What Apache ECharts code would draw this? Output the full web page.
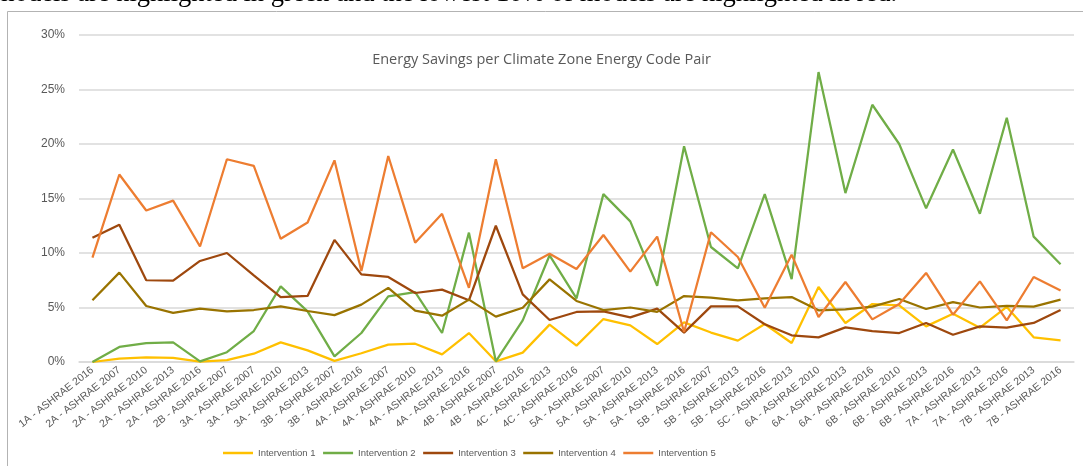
<!DOCTYPE html>
<html>
<head>
<meta charset="utf-8">
<title>Energy Savings per Climate Zone Energy Code Pair</title>
<script src="https://cdn.jsdelivr.net/npm/echarts@6/dist/echarts.min.js"></script>
<style>
  html, body { margin: 0; padding: 0; background: #fff; }
  #chart { width: 1083px; height: 466px; }
</style>
</head>
<body>
<div id="chart"></div>
<script>
// climate zone / code pairs (x axis)
var categories = [
  '1A - ASHRAE 2016', '2A - ASHRAE 2007', '2A - ASHRAE 2010', '2A - ASHRAE 2013', '2A - ASHRAE 2016',
  '2B - ASHRAE 2007', '3A - ASHRAE 2007', '3A - ASHRAE 2010', '3A - ASHRAE 2013', '3B - ASHRAE 2007',
  '3B - ASHRAE 2016', '4A - ASHRAE 2007', '4A - ASHRAE 2010', '4A - ASHRAE 2013', '4A - ASHRAE 2016',
  '4B - ASHRAE 2007', '4B - ASHRAE 2016', '4C - ASHRAE 2013', '4C - ASHRAE 2016', '5A - ASHRAE 2007',
  '5A - ASHRAE 2010', '5A - ASHRAE 2013', '5A - ASHRAE 2016', '5B - ASHRAE 2007', '5B - ASHRAE 2013',
  '5B - ASHRAE 2016', '5C - ASHRAE 2013', '6A - ASHRAE 2010', '6A - ASHRAE 2013', '6A - ASHRAE 2016',
  '6B - ASHRAE 2010', '6B - ASHRAE 2013', '6B - ASHRAE 2016', '7A - ASHRAE 2013', '7A - ASHRAE 2016',
  '7B - ASHRAE 2013', '7B - ASHRAE 2016'
];

// savings in percent
var intervention1 = [0, 0.3, 0.43, 0.37, 0.03, 0.18, 0.76, 1.8, 1.07, 0.1,
  0.8, 1.59, 1.68, 0.7, 2.66, 0.06, 0.86, 3.43, 1.5, 3.94, 3.36, 1.65, 3.64,
  2.7, 1.96, 3.49, 1.74, 6.88, 3.58, 5.32, 5.2, 3.27, 4.43, 3.15, 5.05, 2.26, 1.99];
var intervention2 = [0, 1.38, 1.74, 1.8, 0.06, 0.9, 2.84, 6.94, 4.65, 0.52,
  2.66, 6.02, 6.42, 2.66, 11.87, 0.06, 3.82, 9.79, 5.84, 15.4, 12.9, 7.0, 19.8,
  10.55, 8.6, 15.4, 7.6, 26.6, 15.5, 23.6, 20.0, 14.1, 19.5, 13.6, 22.4, 11.5, 8.96];
var intervention3 = [11.4, 12.6, 7.5, 7.46, 9.27, 10.0, 7.95, 5.96, 6.06, 11.2,
  8.04, 7.8, 6.33, 6.64, 5.66, 12.5, 6.2, 3.85, 4.59, 4.65, 4.1, 4.9, 2.69,
  5.1, 5.1, 3.46, 2.45, 2.26, 3.18, 2.84, 2.66, 3.58, 2.5, 3.27, 3.15, 3.58, 4.77];
var intervention4 = [5.66, 8.2, 5.14, 4.5, 4.9, 4.65, 4.77, 5.1, 4.68, 4.3,
  5.26, 6.8, 4.71, 4.25, 5.72, 4.16, 4.98, 7.58, 5.6, 4.77, 5.0, 4.6, 6.05,
  5.9, 5.66, 5.84, 5.96, 4.74, 4.83, 5.08, 5.78, 4.86, 5.5, 5.0, 5.14, 5.08, 5.72];
var intervention5 = [9.57, 17.2, 13.9, 14.8, 10.6, 18.6, 18.0, 11.3, 12.8, 18.5,
  8.35, 18.9, 10.95, 13.6, 6.8, 18.6, 8.6, 9.94, 8.53, 11.65, 8.29, 11.5, 2.75,
  11.9, 9.63, 4.98, 9.85, 4.13, 7.34, 3.91, 5.32, 8.17, 4.34, 7.4, 3.82, 7.8, 6.57];

var seriesNames = ['Intervention 1', 'Intervention 2', 'Intervention 3', 'Intervention 4', 'Intervention 5'];
var seriesData = [intervention1, intervention2, intervention3, intervention4, intervention5];
var colors = ['#FFC000', '#70AD47', '#9E480E', '#997300', '#ED7D31'];

var chart = echarts.init(document.getElementById('chart'));

var makeSeries = function(name, data) {
  return {
    name: name,
    type: 'line',
    data: data,
    symbol: 'none',
    lineStyle: { width: 2.25 },
    emphasis: { disabled: true }
  };
};

var series = [];
for (var i = 0; i < seriesNames.length; i++) {
  series.push(makeSeries(seriesNames[i], seriesData[i]));
}

var option = {
  animation: false,
  color: colors,
  title: {
    text: 'Energy Savings per Climate Zone Energy Code Pair',
    left: 'center',
    top: 47,
    textStyle: {
      fontFamily: 'Open Sans',
      fontSize: 14.5,
      fontWeight: 'normal',
      color: '#595959'
    }
  },
  legend: {
    data: seriesNames,
    left: 218,
    bottom: 3,
    icon: 'rect',
    itemWidth: 30,
    itemHeight: 2.5,
    itemGap: 7.5,
    textStyle: {
      fontFamily: 'Liberation Sans',
      fontSize: 9.5,
      color: '#595959'
    }
  },
  grid: {
    left: 79,
    right: 9,
    top: 35,
    bottom: 104,
    containLabel: false
  },
  xAxis: {
    type: 'category',
    data: categories,
    boundaryGap: true,
    axisLine: { lineStyle: { color: '#d9d9d9', width: 1.5 } },
    axisTick: { show: false },
    axisLabel: {
      interval: 0,
      rotate: 38,
      margin: 7,
      fontFamily: 'Liberation Sans',
      fontSize: 10.5,
      color: '#595959'
    }
  },
  yAxis: {
    type: 'value',
    min: 0,
    max: 30,
    interval: 5,
    axisLine: { show: false },
    axisTick: { show: false },
    splitLine: { lineStyle: { color: '#d9d9d9', width: 1.5 } },
    axisLabel: {
      formatter: '{value}%',
      margin: 14,
      fontFamily: 'Liberation Sans',
      fontSize: 12,
      color: '#595959'
    }
  },
  graphic: [
    // cropped paragraph text above the chart
    {
      type: 'text',
      right: 186,
      top: -19,
      style: {
        text: 'models are highlighted in green and the lowest 10% of models are highlighted in red.',
        font: '26.5px "Liberation Serif"',
        fill: '#000'
      },
      silent: true
    },
    // chart frame (only top and left edge visible)
    {
      type: 'rect',
      shape: { x: 7.5, y: 11.5, width: 1200, height: 600 },
      style: { fill: 'none', stroke: '#b3b3b3', lineWidth: 1 },
      silent: true
    }
  ],
  series: series
};

chart.setOption(option);
</script>
</body>
</html>
